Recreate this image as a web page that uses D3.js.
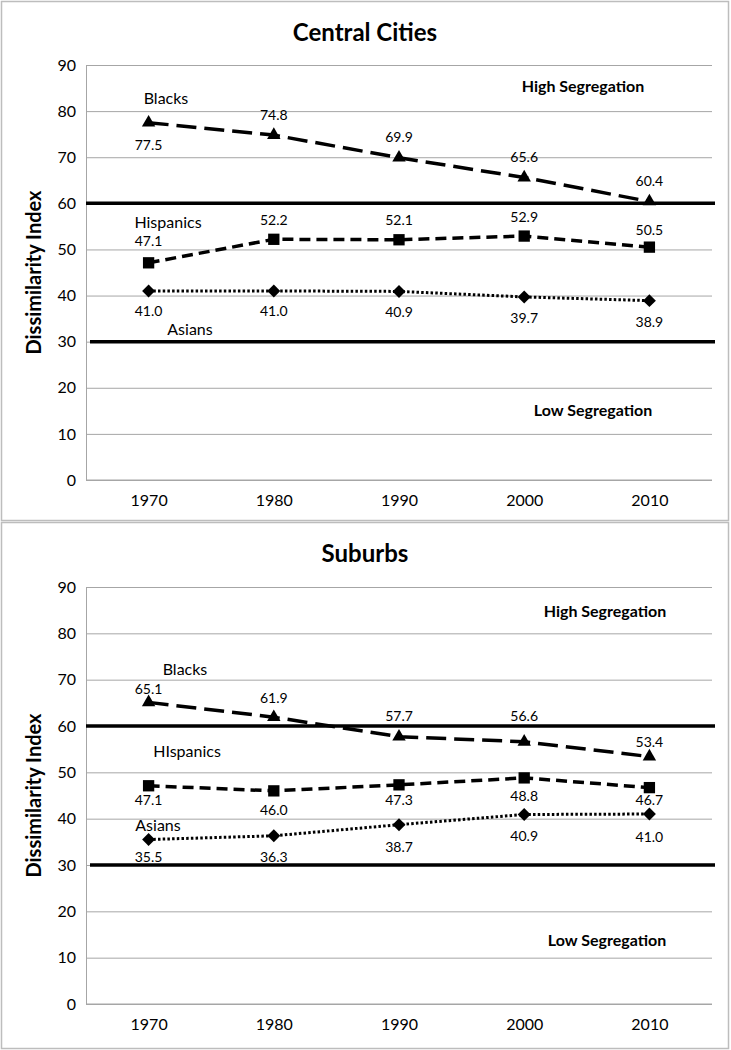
<!DOCTYPE html>
<html>
<head>
<meta charset="utf-8">
<script src="https://cdn.jsdelivr.net/npm/d3@7"></script>
<style>
  html, body { margin: 0; padding: 0; background: #fff; }
  svg { display: block; }
  text { font-family: Lato, "Open Sans", sans-serif; fill: #000; }
</style>
</head>
<body>
<svg id="chart" width="731" height="1050"></svg>
<script>
// ---------- data ----------
const years = ["1970", "1980", "1990", "2000", "2010"];
const yTicks = [0, 10, 20, 30, 40, 50, 60, 70, 80, 90];

const cityBlacks    = [77.5, 74.8, 69.9, 65.6, 60.4];
const cityHispanics = [47.1, 52.2, 52.1, 52.9, 50.5];
const cityAsians    = [41.0, 41.0, 40.9, 39.7, 38.9];

const subBlacks    = [65.1, 61.9, 57.7, 56.6, 53.4];
const subHispanics = [47.1, 46.0, 47.3, 48.8, 46.7];
const subAsians    = [35.5, 36.3, 38.7, 40.9, 41.0];

const highThreshold = 60;
const lowThreshold = 30;

// label placement: negative = above the point, positive = below (pixels)
const cityBlacksOff    = [22, -21, -21, -21, -21];
const cityHispanicsOff = [-22, -20, -20, -20, -18];
const cityAsiansOff    = [20, 20, 20, 21, 21];
const subBlacksOff     = [-14, -20, -21, -26, -15];
const subHispanicsOff  = [14, 19, 15, 18, 12];
const subAsiansOff     = [17, 21, 22, 21, 22];

// ---------- layout ----------
const panels = [
  {
    title: "Central Cities", top: 1, bottom: 520, plotTop: 65, plotBottom: 480,
    series: [
      { name: "Blacks", values: cityBlacks, off: cityBlacksOff, symbol: "triangle", dash: "20,8", lx: 166, ly: 97 },
      { name: "Hispanics", values: cityHispanics, off: cityHispanicsOff, symbol: "square", dash: "11,6", lx: 168, ly: 221 },
      { name: "Asians", values: cityAsians, off: cityAsiansOff, symbol: "diamond", dash: "2.5,2.2", lx: 190, ly: 328 }
    ],
    high: { x: 583, y: 85 }, low: { x: 593, y: 409 }
  },
  {
    title: "Suburbs", top: 522, bottom: 1048, plotTop: 587, plotBottom: 1004,
    series: [
      { name: "Blacks", values: subBlacks, off: subBlacksOff, symbol: "triangle", dash: "20,8", lx: 185, ly: 668 },
      { name: "HIspanics", values: subHispanics, off: subHispanicsOff, symbol: "square", dash: "11,6", lx: 187, ly: 750 },
      { name: "Asians", values: subAsians, off: subAsiansOff, symbol: "diamond", dash: "2.5,2.2", lx: 158, ly: 824 }
    ],
    high: { x: 605, y: 610 }, low: { x: 607, y: 939 }
  }
];

const plotLeft = 86, plotRight = 712;
const svg = d3.select("#chart");

const diamondType = {
  draw(context, size) {
    const r = Math.sqrt(size / 2);
    context.moveTo(0, -r);
    context.lineTo(r, 0);
    context.lineTo(0, r);
    context.lineTo(-r, 0);
    context.closePath();
  }
};
const symbolTypes = { triangle: d3.symbolTriangle, square: d3.symbolSquare, diamond: diamondType };
const symbolSizes = { triangle: 78, square: 128, diamond: 84 };

panels.forEach(p => {
  const g = svg.append("g");

  g.append("rect")
    .attr("x", 1.5).attr("y", p.top + 0.5)
    .attr("width", 727).attr("height", p.bottom - p.top)
    .attr("fill", "none").attr("stroke", "#bdbdbd").attr("stroke-width", 1.5);

  const x = d3.scalePoint().domain(years).range([plotLeft, plotRight]).padding(0.5);
  const y = d3.scaleLinear().domain([0, 90]).range([p.plotBottom, p.plotTop]);

  g.append("text")
    .attr("x", 365).attr("y", p.top + 30)
    .attr("text-anchor", "middle").attr("dominant-baseline", "central")
    .style("font-size", "24px").style("font-weight", "bold")
    .text(p.title);

  const yAxis = d3.axisLeft(y).tickValues(yTicks).tickSize(-(plotRight - plotLeft)).tickPadding(10).tickFormat(d3.format("d"));
  const ya = g.append("g").attr("transform", `translate(${plotLeft},0)`).call(yAxis);
  ya.select(".domain").attr("stroke", "#a6a6a6");
  ya.selectAll(".tick line").attr("stroke", "#a6a6a6").attr("stroke-width", 1);
  ya.selectAll(".tick text").style("font-size", "16px").style("font-family", "Lato, sans-serif").attr("fill", "#000");

  const xAxis = d3.axisBottom(x).tickSize(0).tickPadding(15);
  const xa = g.append("g").attr("transform", `translate(0,${p.plotBottom})`).call(xAxis);
  xa.select(".domain").remove();
  xa.selectAll(".tick text").style("font-size", "16px").style("font-family", "Lato, sans-serif").attr("fill", "#000");
  g.append("line")
    .attr("x1", plotLeft).attr("x2", plotRight)
    .attr("y1", y(0)).attr("y2", y(0))
    .attr("stroke", "#a6a6a6");

  g.append("line")
    .attr("x1", 86).attr("x2", 715)
    .attr("y1", y(highThreshold)).attr("y2", y(highThreshold))
    .attr("stroke", "#000").attr("stroke-width", 3.5);
  g.append("line")
    .attr("x1", 90).attr("x2", 715)
    .attr("y1", y(lowThreshold)).attr("y2", y(lowThreshold))
    .attr("stroke", "#000").attr("stroke-width", 3.5);

  const ymid = (p.plotTop + p.plotBottom) / 2;
  g.append("text")
    .attr("transform", `translate(33,${ymid}) rotate(-90)`)
    .attr("text-anchor", "middle").attr("dominant-baseline", "central")
    .style("font-size", "20px").style("font-weight", "bold")
    .text("Dissimilarity Index");

  g.append("text").attr("x", p.high.x).attr("y", p.high.y)
    .attr("text-anchor", "middle").attr("dominant-baseline", "central")
    .style("font-size", "16px").style("font-weight", "bold")
    .text("High Segregation");
  g.append("text").attr("x", p.low.x).attr("y", p.low.y)
    .attr("text-anchor", "middle").attr("dominant-baseline", "central")
    .style("font-size", "16px").style("font-weight", "bold")
    .text("Low Segregation");

  const line = d3.line().x((d, i) => x(years[i])).y(d => y(d));
  p.series.forEach(s => {
    g.append("path")
      .datum(s.values)
      .attr("d", line)
      .attr("fill", "none")
      .attr("stroke", "#000")
      .attr("stroke-width", s.symbol === "diamond" ? 3 : 3.5)
      .attr("stroke-dasharray", s.dash);

    const sym = d3.symbol().type(symbolTypes[s.symbol]).size(symbolSizes[s.symbol]);
    g.selectAll(null).data(s.values).join("path")
      .attr("d", sym)
      .attr("transform", (d, i) => `translate(${x(years[i])},${y(d)})`)
      .attr("fill", "#000");

    g.selectAll(null).data(s.values).join("text")
      .attr("x", (d, i) => x(years[i]))
      .attr("y", (d, i) => y(d) + s.off[i])
      .attr("text-anchor", "middle").attr("dominant-baseline", "central")
      .style("font-size", "14px")
      .text(d => d.toFixed(1));

    g.append("text").attr("x", s.lx).attr("y", s.ly)
      .attr("text-anchor", "middle").attr("dominant-baseline", "central")
      .style("font-size", "16px")
      .text(s.name);
  });
});
</script>
</body>
</html>
